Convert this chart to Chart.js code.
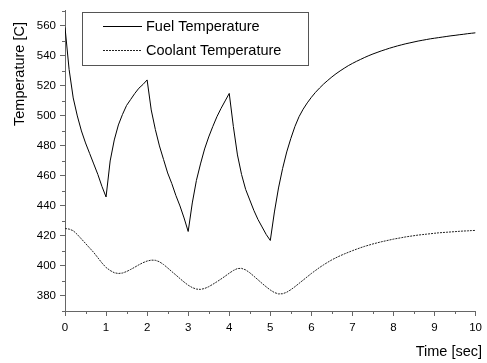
<!DOCTYPE html>
<html><head><meta charset="UTF-8">
<title>Fuel and Coolant Temperature</title>
<script src="https://cdn.jsdelivr.net/npm/chart.js"></script>
<style>html,body{margin:0;padding:0;background:#fff}canvas{display:block}</style>
</head><body>
<canvas id="c" width="487" height="363"></canvas>
<script>
// time axis (sec)
const time = [
  0,0.1,0.2,0.3,0.4,0.5,0.6,0.7,0.8,0.9,
  1,1.1,1.2,1.3,1.4,1.5,1.6,1.7,1.8,1.9,
  2,2.1,2.2,2.3,2.4,2.5,2.6,2.7,2.8,2.9,
  3,3.1,3.2,3.3,3.4,3.5,3.6,3.7,3.8,3.9,
  4,4.1,4.2,4.3,4.4,4.5,4.6,4.7,4.8,4.9,
  5,5.1,5.2,5.3,5.4,5.5,5.6,5.7,5.8,5.9,
  6,6.1,6.2,6.3,6.4,6.5,6.6,6.7,6.8,6.9,
  7,7.1,7.2,7.3,7.4,7.5,7.6,7.7,7.8,7.9,
  8,8.1,8.2,8.3,8.4,8.5,8.6,8.7,8.8,8.9,
  9,9.1,9.2,9.3,9.4,9.5,9.6,9.7,9.8,9.9,
  10
];
const fuelTemp = [
  559,531,512,500,490,482,475,468,461,453,
  446,470,484,494,501,507,511,515,518.5,521,
  524,504,491,480,471,462,455,447,440,432,
  423,442,457,468,478,486,493,499.5,505,510,
  515,493,474,461,451,444,437,431,426,421,
  417,436,452,465,476,485,493,499.5,504.5,508.7,
  512.4,515.7,518.6,521.3,523.7,526,528.1,530,531.8,533.5,
  535,536.4,537.7,539,540.2,541.3,542.3,543.3,544.2,545.1,
  545.9,546.7,547.4,548.1,548.7,549.3,549.9,550.4,550.9,551.4,
  551.8,552.2,552.6,553,553.4,553.7,554.1,554.4,554.8,555.1,
  555.4
];
const coolantTemp = [
  425,424.6,423.5,421,418,415,412,409,405.5,402,
  399,397,395.5,395,395.3,396.3,397.7,399.2,400.8,402.2,
  403.3,403.9,403.8,402.8,401,398.7,396.3,394,391.6,389.3,
  387.2,385.6,384.6,384.4,385,386.2,387.8,389.5,391.3,393.2,
  395.2,397,398.3,398.4,397.4,395.5,393.2,390.8,388.4,386.1,
  384,382.3,381.4,381.5,382.5,384.2,386.2,388.4,390.6,392.8,
  395,397,399,400.8,402.5,404.1,405.5,406.8,408,409.1,
  410.2,411.2,412.2,413.1,413.9,414.7,415.4,416.1,416.7,417.3,
  417.9,418.4,418.9,419.4,419.8,420.2,420.6,420.9,421.2,421.5,
  421.8,422.1,422.3,422.5,422.7,422.9,423.1,423.3,423.4,423.6,
  423.7
];
const xTicks = [0,1,2,3,4,5,6,7,8,9,10];
const xMinor = [0.5,1.5,2.5,3.5,4.5,5.5,6.5,7.5,8.5,9.5];
const yTicks = [380,400,420,440,460,480,500,520,540,560];
const yMinor = [370,390,410,430,450,470,490,510,530,550,570];

const FONT = "'Liberation Sans', Arial, sans-serif";
const AXIS = '#666';

const pts = ys => time.map((t, i) => ({x: t, y: ys[i]}));

// minor ticks, axis titles and the boxed legend
const extras = {
  id: 'extras',
  afterDraw(chart) {
    const ctx = chart.ctx, xs = chart.scales.x, ys = chart.scales.y;
    const a = chart.chartArea;
    ctx.save();
    ctx.strokeStyle = AXIS;
    ctx.lineWidth = 1;
    ctx.beginPath();
    xMinor.forEach(v => {
      const px = Math.round(xs.getPixelForValue(v)) + 0.5;
      ctx.moveTo(px, a.bottom); ctx.lineTo(px, a.bottom + 3);
    });
    yMinor.forEach(v => {
      const py = Math.round(ys.getPixelForValue(v)) + 0.5;
      ctx.moveTo(a.left, py); ctx.lineTo(a.left - 3, py);
    });
    ctx.stroke();

    ctx.fillStyle = '#000';
    ctx.font = '14.5px ' + FONT;
    ctx.textAlign = 'right';
    ctx.textBaseline = 'alphabetic';
    ctx.fillText('Time [sec]', 482, 356);
    ctx.save();
    ctx.translate(24, 74);
    ctx.rotate(-Math.PI / 2);
    ctx.textAlign = 'center';
    ctx.fillText('Temperature [C]', 0, 0);
    ctx.restore();

    // legend
    ctx.strokeStyle = '#555';
    ctx.strokeRect(82.5, 12.5, 226, 53);
    ctx.textAlign = 'left';
    ctx.textBaseline = 'middle';
    chart.data.datasets.forEach((ds, i) => {
      const y = 26.5 + i * 24;
      ctx.strokeStyle = ds.borderColor;
      ctx.setLineDash(ds.borderDash || []);
      ctx.beginPath();
      ctx.moveTo(103, y); ctx.lineTo(142, y);
      ctx.stroke();
      ctx.setLineDash([]);
      ctx.fillText(ds.label, 146, y);
    });
    ctx.restore();
  }
};

new Chart(document.getElementById('c'), {
  type: 'line',
  data: {
    datasets: [
      {label: 'Fuel Temperature', data: pts(fuelTemp), borderColor: '#000', borderWidth: 1, pointRadius: 0, tension: 0},
      {label: 'Coolant Temperature', data: pts(coolantTemp), borderColor: '#222', borderWidth: 1, borderDash: [2, 1], pointRadius: 0, tension: 0}
    ]
  },
  options: {
    responsive: false,
    animation: false,
    layout: {padding: {left: 0, top: 8, right: 8, bottom: 0}},
    plugins: {legend: {display: false}, tooltip: {enabled: false}},
    scales: {
      x: {
        type: 'linear', min: 0, max: 10,
        afterBuildTicks: s => { s.ticks = xTicks.map(v => ({value: v})); },
        afterFit: s => { s.height = 52; },
        border: {color: AXIS, width: 1},
        grid: {drawOnChartArea: false, tickLength: 5, color: AXIS},
        ticks: {color: '#000', padding: 5, maxRotation: 0, font: {family: FONT, size: 11.5}}
      },
      y: {
        min: 370, max: 570,
        afterBuildTicks: s => { s.ticks = yTicks.map(v => ({value: v})); },
        afterFit: s => { s.width = 65; },
        border: {color: AXIS, width: 1},
        grid: {drawOnChartArea: false, tickLength: 5, color: AXIS},
        ticks: {color: '#000', padding: 4, font: {family: FONT, size: 11.5}}
      }
    }
  },
  plugins: [extras]
});
</script>
</body></html>
